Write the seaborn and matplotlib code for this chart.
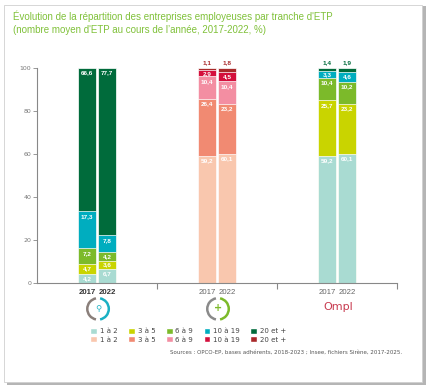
import matplotlib
matplotlib.use("Agg")
import matplotlib.pyplot as plt
from matplotlib.patches import Patch, Rectangle, Arc
import numpy as np
import pandas as pd
import seaborn as sns

# Data
groups = ["OPCO-EP", "Insee", "Ompl"]
years = ["2017", "2022"]
tranches = ["1 à 2", "3 à 5", "6 à 9", "10 à 19", "20 et +"]

opco_2017 = [4.2, 4.7, 7.2, 17.3, 66.6]
opco_2022 = [6.7, 3.6, 4.2, 7.8, 77.7]
insee_2017 = [59.2, 26.4, 10.4, 2.9, 1.1]
insee_2022 = [60.1, 23.2, 10.4, 4.5, 1.8]
ompl_2017 = [59.2, 25.7, 10.4, 3.3, 1.4]
ompl_2022 = [60.1, 23.2, 10.2, 4.6, 1.9]

greens = ["#a9dbd2", "#c9d400", "#7cba2a", "#00adbf", "#006b3b"]
reds = ["#f9c7ae", "#f18a72", "#f38ea2", "#d40f3c", "#a8292a"]

series = {
    ("OPCO-EP", "2017"): opco_2017, ("OPCO-EP", "2022"): opco_2022,
    ("Insee", "2017"): insee_2017, ("Insee", "2022"): insee_2022,
    ("Ompl", "2017"): ompl_2017, ("Ompl", "2022"): ompl_2022,
}
palettes = {"OPCO-EP": greens, "Insee": reds, "Ompl": greens}

sns.set_theme(style="white")
plt.rcParams["font.family"] = ["DejaVu Sans"]
NARROW = ["Liberation Sans Narrow", "Liberation Sans", "DejaVu Sans"]

fig = plt.figure(figsize=(4.3, 3.9), dpi=100)
fig.patch.set_facecolor("white")

# card with shadow
fig.patches.append(Rectangle((0.016, 0.012), 0.974, 0.972, transform=fig.transFigure,
                             facecolor="#b5b5b5", edgecolor="none", zorder=-2))
fig.patches.append(Rectangle((0.010, 0.020), 0.972, 0.968, transform=fig.transFigure,
                             facecolor="white", edgecolor="#d0d0d0", lw=0.6, zorder=-1))

ax = fig.add_axes([0.086, 0.274, 0.837, 0.552])

offsets = {"2017": -0.083, "2022": 0.083}
width = 0.15

rows = []
for gi, g in enumerate(groups):
    for y in years:
        vals = series[(g, y)]
        cum = np.cumsum(vals)
        for k, t in enumerate(tranches):
            rows.append({"group": g, "year": y, "x": gi + offsets[y], "layer": k,
                         "value": vals[k], "top": cum[k],
                         "color": palettes[g][k]})
df = pd.DataFrame(rows)

# stacked bars drawn as cumulative layers, top layer first
for k in reversed(range(len(tranches))):
    sub = df[df["layer"] == k]
    for _, r in sub.iterrows():
        ax.bar(r["x"], r["top"], width=width, color=r["color"],
               edgecolor="white", linewidth=0.5, zorder=2)

# value labels
for _, r in df.iterrows():
    txt = f"{r['value']:.1f}".replace(".", ",")
    if r["layer"] == 4 and r["group"] != "OPCO-EP":
        ax.text(r["x"], r["top"] + 1.2, txt, ha="center", va="bottom",
                fontsize=4.6, color=r["color"], fontweight="bold", family=NARROW)
    elif r["value"] >= 6:
        ax.text(r["x"], r["top"] - 1.2, txt, ha="center", va="top",
                fontsize=4.6, color="white", fontweight="bold", family=NARROW)
    else:
        ax.text(r["x"], r["top"] - r["value"] / 2, txt, ha="center", va="center",
                fontsize=4.6, color="white", fontweight="bold", family=NARROW)

ax.set_xlim(-0.5, 2.5)
ax.set_ylim(0, 100)
ax.set_yticks([0, 20, 40, 60, 80, 100])
ax.set_xticks([0.5, 1.5, 2.5])
ax.set_xticklabels([])
ax.tick_params(axis="y", labelsize=4.5, labelcolor="#777777", length=3, width=0.6,
               color="#888888", left=True, pad=1)
ax.tick_params(axis="x", length=4, width=0.8, color="#888888", bottom=True)
for s in ["top", "right"]:
    ax.spines[s].set_visible(False)
for s in ["left", "bottom"]:
    ax.spines[s].set_color("#888888")
    ax.spines[s].set_linewidth(0.8)

# year labels
for gi, g in enumerate(groups):
    for y in years:
        bold = g == "OPCO-EP"
        ax.text(gi + offsets[y], -2.5, y, ha="center", va="top", fontsize=5.6,
                color="#333333" if bold else "#666666",
                fontweight="bold" if bold else "normal", family=NARROW,
                transform=ax.transData, clip_on=False)

# logos below the groups
def ring(cx, cy, c1, c2):
    fig.patches.append(Arc((cx, cy), 0.05, 0.055, theta1=100, theta2=260,
                           transform=fig.transFigure, color=c2, lw=1.8))
    fig.patches.append(Arc((cx, cy), 0.05, 0.055, theta1=280, theta2=80,
                           transform=fig.transFigure, color=c1, lw=1.8))

ring(0.228, 0.208, "#1ab0c3", "#8a7f7a")
fig.text(0.228, 0.208, "⚲", ha="center", va="center", fontsize=6, color="#1ab0c3")
ring(0.507, 0.208, "#7cba2a", "#8a8a8a")
fig.text(0.507, 0.210, "+", ha="center", va="center", fontsize=7, color="#7cba2a",
         fontweight="bold")
fig.text(0.787, 0.212, "Ompl", ha="center", va="center", fontsize=8, color="#c83b50")

# legend
handles = []
for k, t in enumerate(tranches):
    handles.append(Patch(facecolor=greens[k], label=t))
    handles.append(Patch(facecolor=reds[k], label=t))
fig.legend(handles=handles, ncol=5, loc="upper left", bbox_to_anchor=(0.195, 0.175),
           frameon=False, fontsize=5, handlelength=1.0, handleheight=1.0,
           handletextpad=0.4, columnspacing=1.5, labelspacing=0.25,
           labelcolor="#444444")

fig.text(0.936, 0.097, "Sources : OPCO-EP, bases adhérents, 2018-2023 ; Insee, fichiers Sirène, 2017-2025.",
         ha="right", va="center", fontsize=4.0, color="#555555")

# title
fig.text(0.03, 0.942, "Évolution de la répartition des entreprises employeuses par tranche d'ETP\n"
         "(nombre moyen d'ETP au cours de l’année, 2017-2022, %)",
         ha="left", va="center", fontsize=7.0, color="#80c13a", linespacing=1.45,
         family=NARROW)

fig.savefig("out.png", dpi=100)
